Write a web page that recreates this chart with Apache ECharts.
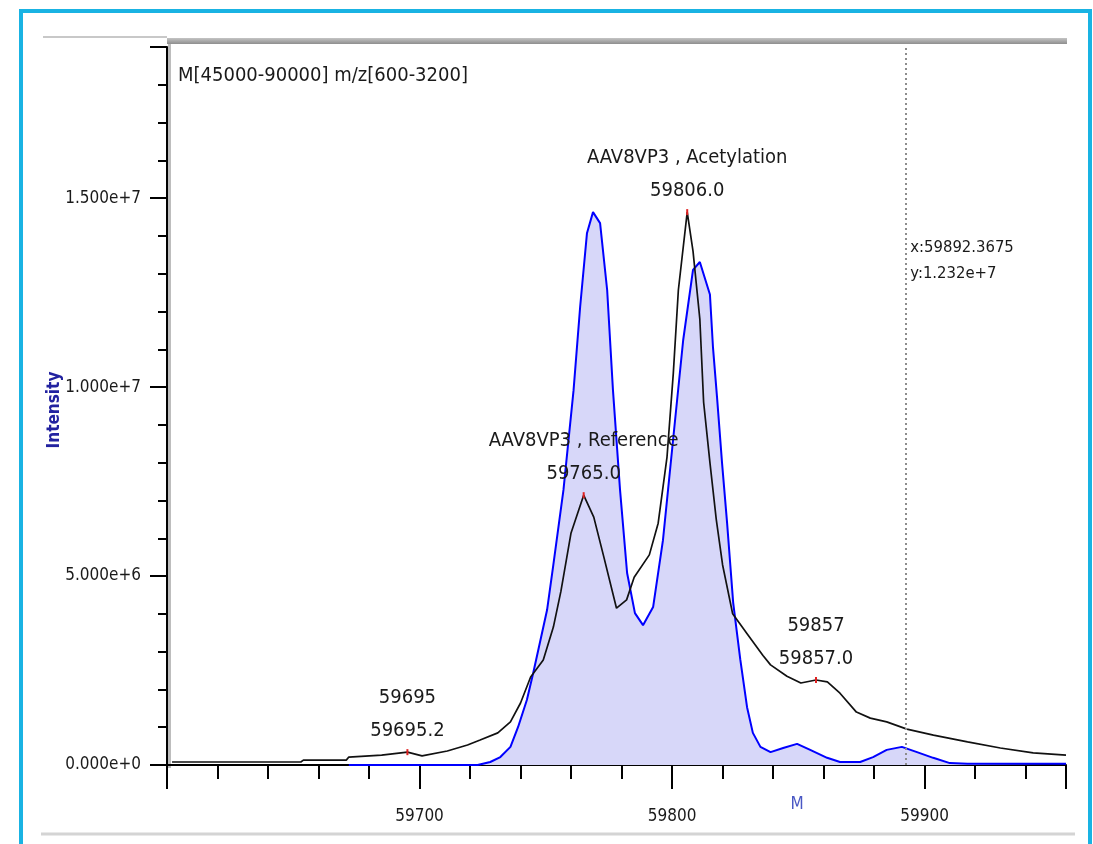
<!DOCTYPE html>
<html>
<head>
<meta charset="utf-8">
<title>Deconvoluted spectrum</title>
<script src="https://cdn.jsdelivr.net/npm/echarts@6/dist/echarts.min.js"></script>
<style>
  html, body { margin: 0; padding: 0; background: #fff; }
  #chart { width: 1093px; height: 844px; }
</style>
</head>
<body>
<div id="chart"></div>
<script>
// spectrum data (mass in Da, intensity in counts)
const blackMz = [59602, 59653, 59654, 59671, 59672, 59685, 59695.2, 59701, 59711, 59719, 59724, 59731,
  59736, 59740, 59744, 59749, 59753, 59756, 59760, 59765, 59769, 59773, 59778, 59782, 59785, 59791,
  59794.5, 59798, 59800.5, 59802.5, 59806, 59808.3, 59811, 59812.5, 59815, 59817.5, 59820, 59824,
  59830, 59836, 59839, 59845.5, 59851, 59857, 59861.5, 59866.5, 59873, 59878.5, 59885, 59893,
  59903.5, 59917, 59930, 59943, 59956];
const blackIntensity = [0.08e6, 0.08e6, 0.13e6, 0.13e6, 0.21e6, 0.26e6, 0.34e6, 0.24e6, 0.37e6, 0.53e6,
  0.66e6, 0.85e6, 1.14e6, 1.64e6, 2.33e6, 2.78e6, 3.65e6, 4.6e6, 6.14e6, 7.14e6, 6.56e6, 5.5e6, 4.15e6,
  4.37e6, 4.97e6, 5.56e6, 6.4e6, 8.15e6, 10.37e6, 12.57e6, 14.63e6, 13.6e6, 11.8e6, 9.6e6, 8.0e6, 6.5e6,
  5.3e6, 4.0e6, 3.45e6, 2.9e6, 2.65e6, 2.35e6, 2.17e6, 2.25e6, 2.2e6, 1.9e6, 1.4e6, 1.24e6, 1.14e6,
  0.95e6, 0.79e6, 0.61e6, 0.45e6, 0.32e6, 0.26e6];

const blueMz = [59672, 59723, 59728, 59732, 59736, 59739, 59742.5, 59745, 59747.7, 59750.5, 59753,
  59757, 59761, 59763.6, 59766.3, 59768.7, 59771.5, 59774.3, 59776.6, 59779.4, 59782.2, 59785.3,
  59788.5, 59792.5, 59796.4, 59800.4, 59804.4, 59808.3, 59811, 59815, 59816.2, 59817.8, 59819.8,
  59821.8, 59824.2, 59827, 59829.7, 59832, 59835, 59839, 59844, 59849.5, 59854.7, 59861.4, 59866.5,
  59874.5, 59879.6, 59885, 59891, 59897, 59903.4, 59910, 59917, 59956];
const blueIntensity = [0, 0, 0.08e6, 0.21e6, 0.48e6, 1.0e6, 1.72e6, 2.43e6, 3.25e6, 4.1e6, 5.3e6,
  7.28e6, 9.92e6, 12.12e6, 14.07e6, 14.63e6, 14.34e6, 12.57e6, 9.92e6, 7.28e6, 5.08e6, 4.02e6, 3.7e6,
  4.18e6, 5.95e6, 8.6e6, 11.24e6, 13.1e6, 13.31e6, 12.45e6, 11.06e6, 9.74e6, 7.99e6, 6.4e6, 4.3e6,
  2.8e6, 1.53e6, 0.85e6, 0.48e6, 0.34e6, 0.45e6, 0.56e6, 0.4e6, 0.19e6, 0.08e6, 0.08e6, 0.21e6,
  0.4e6, 0.48e6, 0.34e6, 0.19e6, 0.05e6, 0.03e6, 0.03e6];

// labelled peaks
const peakNames = ['59695', 'AAV8VP3 , Reference', 'AAV8VP3 , Acetylation', '59857'];
const peakMz = [59695.2, 59765.0, 59806.0, 59857.0];
const peakIntensity = [0.34e6, 7.14e6, 14.63e6, 2.25e6];

// cursor readout
const cursorX = 59892.3675;
const cursorY = 1.232e7;

// tick labels
const xLabels = [59700, 59800, 59900];
const yLabels = [0, 5e6, 10e6, 15e6];

const FONT = "'DejaVu Sans Condensed', 'DejaVu Sans', sans-serif";
const TEXT = '#1a1a1a';

const blackData = blackMz.map((m, i) => [m, blackIntensity[i]]);
const blueData = blueMz.map((m, i) => [m, blueIntensity[i]]);

const peakPoints = peakMz.map((m, i) => ({
  coord: [m, peakIntensity[i]],
  value: peakNames[i] + '\n' + m.toFixed(1)
}));

const chart = echarts.init(document.getElementById('chart'), null, { renderer: 'canvas' });

const xBase = { type: 'value', min: 59600, max: 59956, position: 'bottom', offset: 7, splitLine: { show: false } };
const yBase = { type: 'value', min: 0, max: 19e6, position: 'left', splitLine: { show: false } };

chart.setOption({
  animation: false,
  backgroundColor: '#fff',
  title: {
    text: 'M[45000-90000] m/z[600-3200]',
    left: 178,
    top: 66,
    padding: 0,
    textStyle: { fontFamily: FONT, fontSize: 20, fontWeight: 'normal', color: TEXT }
  },
  grid: { left: 167, right: 27, top: 47, bottom: 79 },
  xAxis: [
    Object.assign({}, xBase, {
      interval: 20,
      axisLine: { lineStyle: { color: '#000', width: 2 } },
      axisTick: { length: 14, lineStyle: { color: '#000', width: 2 } },
      axisLabel: {
        margin: 36,
        fontFamily: FONT, fontSize: 17, color: TEXT,
        formatter: v => xLabels.includes(v) ? String(v) : ''
      }
    }),
    Object.assign({}, xBase, {
      interval: 100,
      axisLine: { show: false },
      axisTick: { length: 24, lineStyle: { color: '#000', width: 2 } },
      axisLabel: { show: false }
    })
  ],
  yAxis: [
    Object.assign({}, yBase, {
      interval: 1e6,
      axisLine: { show: true, lineStyle: { color: '#000', width: 2 } },
      axisTick: { length: 9, lineStyle: { color: '#000', width: 2 } },
      axisLabel: {
        margin: 26,
        fontFamily: FONT, fontSize: 17, color: TEXT,
        formatter: v => yLabels.includes(v) ? v.toExponential(3) : ''
      }
    }),
    Object.assign({}, yBase, {
      interval: 5e6,
      axisLine: { show: false },
      axisTick: { show: true, length: 17, lineStyle: { color: '#000', width: 2 } },
      axisLabel: { show: false }
    })
  ],
  graphic: [
    { type: 'rect', z: -10, silent: true, shape: { x: 21, y: 11, width: 1069, height: 850 },
      style: { fill: 'none', stroke: '#19b3e3', lineWidth: 4 } },
    { type: 'line', z: -10, silent: true, shape: { x1: 43, y1: 37, x2: 167, y2: 37 },
      style: { stroke: '#c8c8c8', lineWidth: 2 } },
    { type: 'rect', z: -10, silent: true, shape: { x: 167, y: 38, width: 900, height: 6 },
      style: { fill: new echarts.graphic.LinearGradient(0, 0, 0, 1, [
        { offset: 0, color: '#c4c4c4' }, { offset: 1, color: '#8e8e8e' }]) } },
    { type: 'rect', z: -10, silent: true, shape: { x: 168, y: 44, width: 3, height: 724 },
      style: { fill: '#bdbdbd' } },
    { type: 'line', z: -10, silent: true, shape: { x1: 41, y1: 834, x2: 1075, y2: 834 },
      style: { stroke: '#d4d4d4', lineWidth: 3 } },
    // axis titles
    { type: 'text', silent: true, x: 797, y: 805,
      style: { text: 'M', fontFamily: FONT, fontSize: 17, fill: '#4a58c4', align: 'center', verticalAlign: 'middle' } },
    { type: 'text', silent: true, x: 55, y: 410, rotation: Math.PI / 2,
      style: { text: 'Intensity', fontFamily: FONT, fontSize: 17, fontWeight: 'bold', fill: '#2222a0',
        align: 'center', verticalAlign: 'middle' } }
  ],
  series: [
    {
      type: 'line',
      name: 'reference',
      data: blueData,
      showSymbol: false,
      symbol: 'none',
      lineStyle: { color: '#0000ff', width: 2 },
      areaStyle: { color: '#d7d7f9', opacity: 1 },
      markLine: {
        silent: true,
        symbol: ['none', 'none'],
        label: { show: false },
        lineStyle: { color: '#8c8c8c', type: [2, 3], width: 2 },
        data: [{ xAxis: cursorX }]
      },
      markPoint: {
        silent: true,
        symbol: 'circle',
        symbolSize: 0,
        label: {
          show: true,
          position: [5, -65],
          align: 'left',
          verticalAlign: 'top',
          fontFamily: FONT, fontSize: 16.5, lineHeight: 26, color: TEXT,
          formatter: 'x:' + cursorX.toFixed(4) + '\ny:' + cursorY.toExponential(3)
        },
        data: [{ coord: [cursorX, cursorY] }]
      }
    },
    {
      type: 'line',
      name: 'sample',
      data: blackData,
      showSymbol: false,
      symbol: 'none',
      lineStyle: { color: '#111', width: 1.7 },
      markPoint: {
        silent: true,
        symbol: 'rect',
        symbolSize: [2, 6],
        itemStyle: { color: '#e02020' },
        label: {
          show: true,
          position: 'top',
          distance: 2,
          fontFamily: FONT, fontSize: 20, lineHeight: 33, color: TEXT,
          formatter: p => p.value
        },
        data: peakPoints
      }
    }
  ]
});
</script>
</body>
</html>
